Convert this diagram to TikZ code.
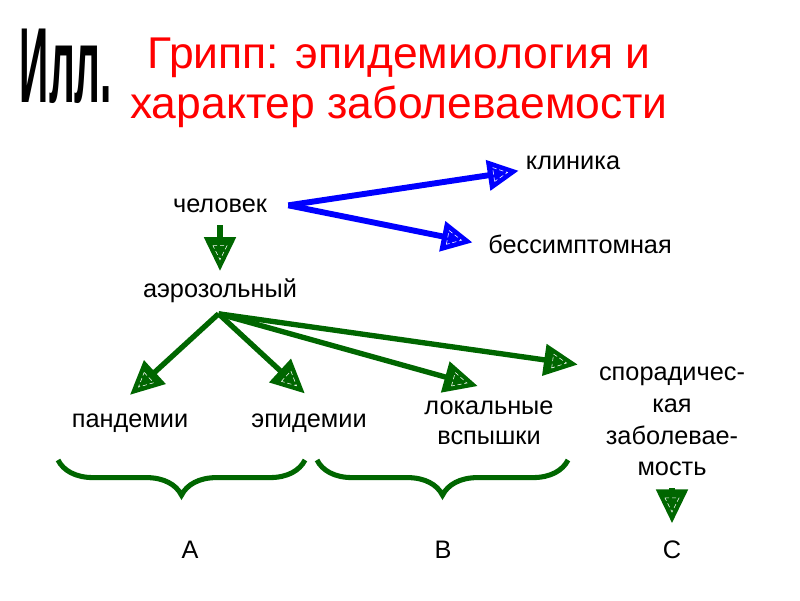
\documentclass[tikz,border=0pt]{standalone}
\usepackage{fontspec}
\setmainfont{Liberation Sans}
\usetikzlibrary{arrows.meta,decorations.pathreplacing,decorations.markings}

\definecolor{titlered}{RGB}{255,0,0}
\definecolor{flowblue}{RGB}{0,0,255}
\definecolor{flowgreen}{RGB}{0,102,0}

\begin{document}
\begin{tikzpicture}[x=0.025cm, y=-0.025cm, line join=miter,
    lbl/.style={inner sep=0pt, anchor=base, font=\fontsize{18}{22}\selectfont},
    ttl/.style={inner sep=0pt, anchor=base, text=titlered,
                font=\fontsize{31.6}{36}\selectfont},
    innertip/.style={postaction={decorate, decoration={markings,
                mark=at position 1 with {\draw[white, densely dashed, line width=0.4pt]
                  (-18pt,-5pt) -- (-18pt,5pt) -- (-8pt,0pt) -- cycle;}}}},
    bluearrow/.style={draw=flowblue, line width=4.2pt,
                -{Triangle[length=22pt, width=21pt]}, innertip},
    greenarrow/.style={draw=flowgreen, line width=3.8pt,
                -{Triangle[length=24pt, width=22pt]}, innertip},
    greenbrace/.style={draw=flowgreen, line width=3.6pt,
                decorate, decoration={brace, mirror, amplitude=25pt}}]
  \useasboundingbox (0,0) rectangle (800,600);

  % side mark and title
  \node[inner sep=0pt, anchor=base, font=\fontsize{76}{76}\selectfont\bfseries]
    (ill) at (66,102) {\scalebox{0.38}[1]{Илл.}};
  \node[ttl] (title1) at (399,68)  {Грипп: эпидемиология и};
  \node[ttl] (title2) at (399,118) {характер заболеваемости};

  % labels
  \node[lbl] (man)   at (220,212) {человек};
  \node[lbl] (clin)  at (573,169) {клиника};
  \node[lbl] (asym)  at (580,253) {бессимптомная};
  \node[lbl] (aero)  at (220,297) {аэрозольный};
  \node[lbl] (pand)  at (130,427) {пандемии};
  \node[lbl] (epid)  at (309,427) {эпидемии};
  \node[lbl] (local1) at (489,414) {локальные};
  \node[lbl] (local2) at (489,444) {вспышки};
  \node[lbl] (spor1) at (672,380) {спорадичес-};
  \node[lbl] (spor2) at (672,412) {кая};
  \node[lbl] (spor3) at (672,444) {заболевае-};
  \node[lbl] (spor4) at (672,475) {мость};
  \node[lbl] (A) at (190,558) {А};
  \node[lbl] (B) at (443,558) {В};
  \node[lbl] (C) at (672,558) {С};

  % outcome of infection
  \coordinate (split) at ([xshift=15pt]man.east);
  \draw[bluearrow] (split) -- ([xshift=-5pt,yshift=-6pt]clin.west);
  \draw[bluearrow] (split) -- ([xshift=-11pt,yshift=1pt]asym.west);

  % transmission route
  \draw[greenarrow] ([yshift=-9pt]man.south) -- ([yshift=5pt]aero.north);

  % forms of spread
  \coordinate (fan) at ([xshift=-1pt,yshift=-8pt]aero.south);
  \draw[greenarrow] (fan) -- ([yshift=13pt]pand.north);
  \draw[greenarrow] (fan) -- ([xshift=-3pt,yshift=14pt]epid.north);
  \draw[greenarrow] (fan) -- ([xshift=-8pt,yshift=10pt]local1.north);
  \draw[greenarrow] (fan) -- ([xshift=-15pt,yshift=8pt]spor1.west);
  \draw[greenarrow] ([yshift=-9pt]spor4.south) -- ([yshift=12pt]C.north);

  % groupings
  \coordinate (brA1) at (58,460);
  \coordinate (brA2) at (305,460);
  \coordinate (brB1) at (317,460);
  \coordinate (brB2) at (568,460);
  \draw[greenbrace] (brA1) -- (brA2);
  \draw[greenbrace] (brB1) -- (brB2);
\end{tikzpicture}
\end{document}
